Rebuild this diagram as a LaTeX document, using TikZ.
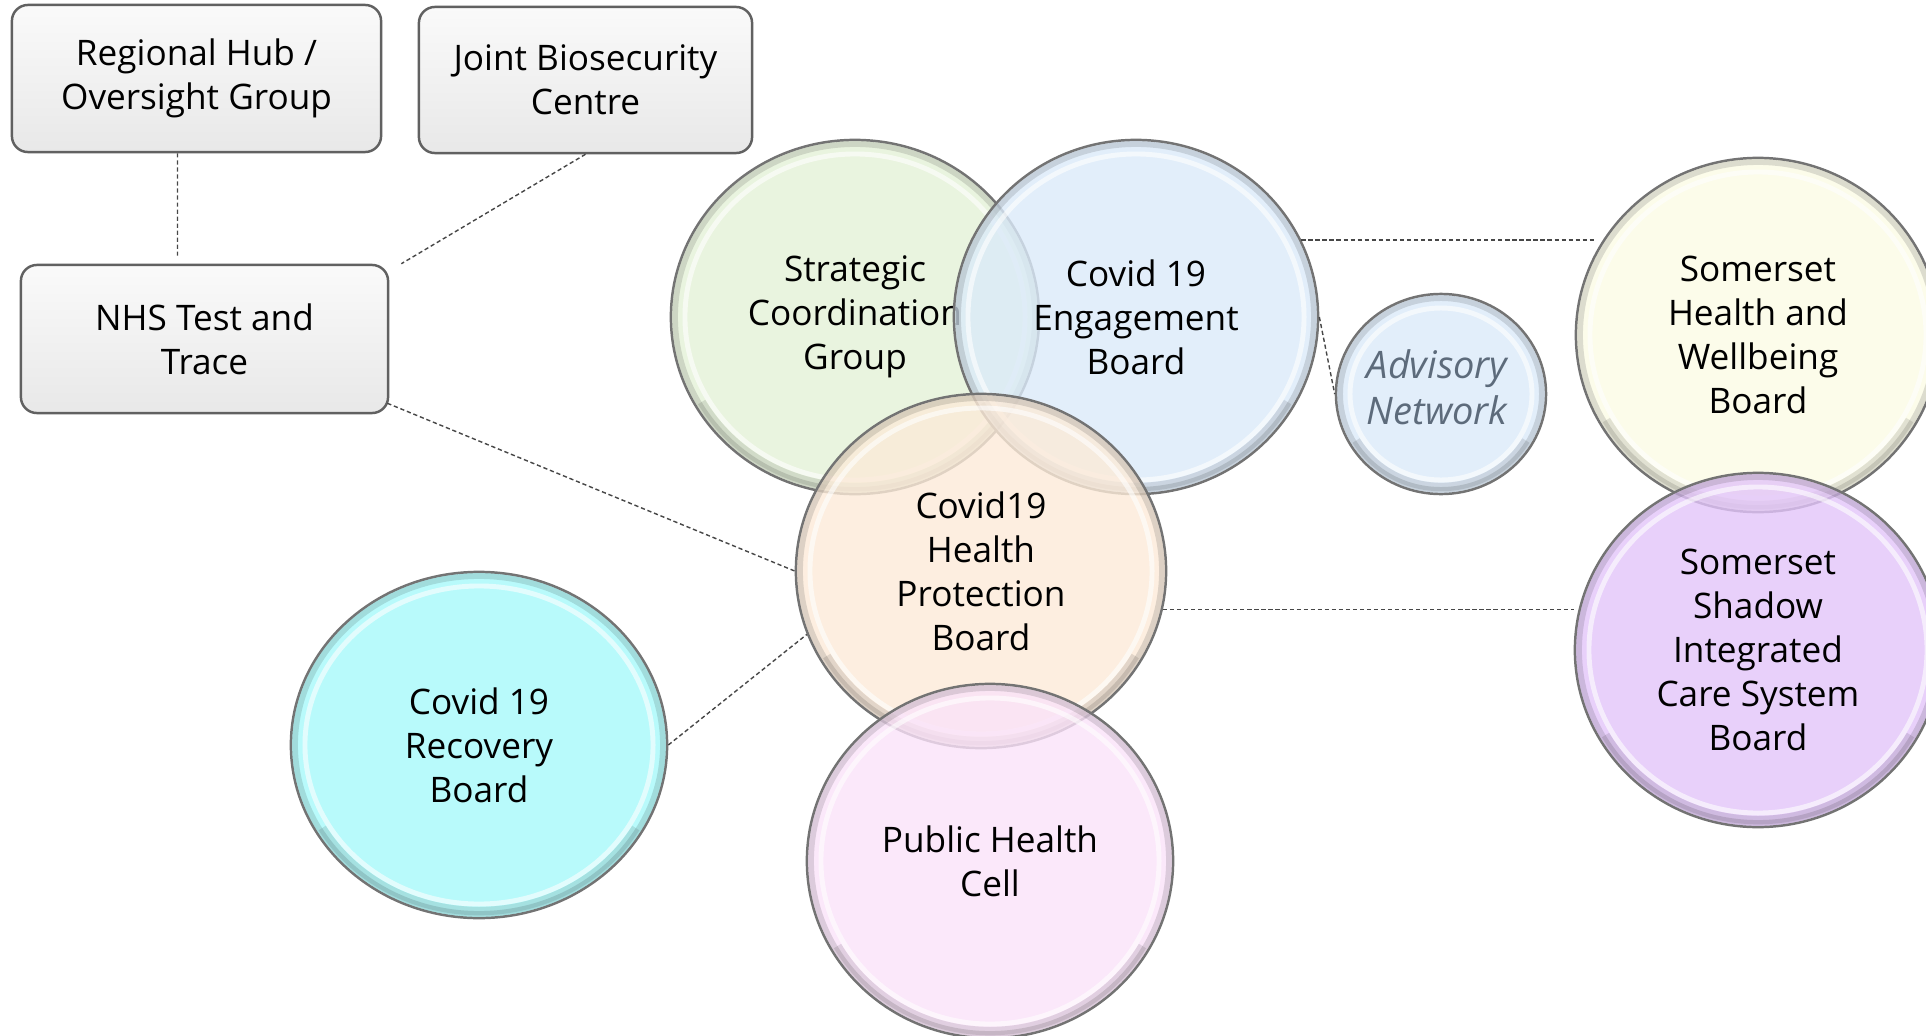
\documentclass[tikz,border=0pt]{standalone}
\usepackage{fontspec}
\setmainfont{Open Sans}
\usetikzlibrary{shapes.geometric,calc}
\definecolor{cgreen}{HTML}{E4F1D7}
\definecolor{cblue}{HTML}{DBEAF9}
\definecolor{cpeach}{HTML}{FCEAD8}
\definecolor{cpink}{HTML}{FAE2F9}
\definecolor{ccyan}{HTML}{A6F9FA}
\definecolor{cyellow}{HTML}{FBFBE5}
\definecolor{cpurple}{HTML}{E2C4F9}
\definecolor{cadv}{HTML}{DBEAF9}
\definecolor{advtext}{HTML}{5D6B7B}
\begin{document}
\begin{tikzpicture}[x=0.01cm,y=-0.01cm,
  font=\fontsize{10}{12.5}\selectfont,
  box/.style={draw=black!62, line width=0.7pt, rounded corners=0.16cm,
    top color=white!98!black, bottom color=black!9, align=center, inner sep=0pt},
  bubble/.style={ellipse, draw=black!55, line width=0.7pt, fill=#1, fill opacity=0.8,
    text opacity=1, align=center, inner sep=0pt,
    path picture={
      \draw[white, opacity=0.6, line width=1.4pt]
        let \p1=($(path picture bounding box.north east)-(path picture bounding box.center)$) in
        (path picture bounding box.center) ellipse [x radius=\x1-4pt, y radius=\y1-4pt];
      \draw[black, opacity=0.12, line width=1.6pt]
        let \p1=($(path picture bounding box.north east)-(path picture bounding box.center)$) in
        (path picture bounding box.center) ellipse [x radius=\x1-1.2pt, y radius=\y1-1.2pt];
      \draw[black, opacity=0.10, line width=2.4pt]
        let \p1=($(path picture bounding box.north east)-(path picture bounding box.center)$) in
        ($(path picture bounding box.center)+(210:\x1-2pt and \y1-2pt)$)
        arc [start angle=210, end angle=330, x radius=\x1-2pt, y radius=\y1-2pt];
    }},
  conn/.style={draw=black!72, line width=0.4pt, dash pattern=on 1.2pt off 0.8pt}
]
\useasboundingbox (0,0) rectangle (1926,1036);

% boxes
\node[box, minimum width=3.69cm, minimum height=1.47cm] (reg) at (196.5,78.5) {Regional Hub /\\Oversight Group};
\node[box, minimum width=3.33cm, minimum height=1.46cm] (jbc) at (585.5,80) {Joint Biosecurity\\Centre};
\node[box, minimum width=3.67cm, minimum height=1.48cm] (nhs) at (204.5,339) {NHS Test and\\Trace};

% bubbles
\node[bubble=cgreen, minimum width=3.68cm, minimum height=3.54cm] (scg) at (855,317) {Strategic\\Coordination\\Group};
\node[bubble=cblue, minimum width=3.64cm, minimum height=3.54cm] (eng) at (1136,317) {Covid 19\\Engagement\\Board};
\node[bubble=cpeach, minimum width=3.70cm, minimum height=3.54cm] (hpb) at (981,571) {Covid19\\Health\\Protection\\Board};
\node[bubble=cpink, minimum width=3.66cm, minimum height=3.54cm] (phc) at (990,861) {Public Health\\Cell};
\node[bubble=ccyan, minimum width=3.76cm, minimum height=3.46cm] (rec) at (479,745) {Covid 19\\Recovery\\Board};
\node[bubble=cyellow, minimum width=3.64cm, minimum height=3.54cm] (hwb) at (1758,335) {Somerset\\Health and\\Wellbeing\\Board};
\node[bubble=cpurple, minimum width=3.66cm, minimum height=3.54cm] (ics) at (1758,650) {Somerset\\Shadow\\Integrated\\Care System\\Board};
\node[bubble=cadv, minimum width=2.10cm, minimum height=2.00cm] (adv) at (1441,394) {};
\node[text=advtext, align=center, font=\fontsize{10.8}{13.2}\selectfont\itshape] (advt) at (1437,387) {Advisory\\Network};

% connectors
\draw[conn] ([xshift=-0.19cm]reg.south) -- ([xshift=-0.27cm,yshift=0.08cm]nhs.north);
\draw[conn] (jbc.south) -- ([xshift=0.12cm]nhs.north east);
\draw[conn] ([xshift=-0.02cm,yshift=0.11cm]nhs.south east) -- (hpb.west);
\draw[conn] (rec.east) -- (hpb.200);
\draw[conn] (eng.25) -- ([xshift=0.2cm]eng.25 -| hwb.west);
\draw[conn] (eng.east) -- (adv.west);
\draw[conn] (hpb.-12) -- (hpb.-12 -| ics.west);
\end{tikzpicture}
\end{document}
